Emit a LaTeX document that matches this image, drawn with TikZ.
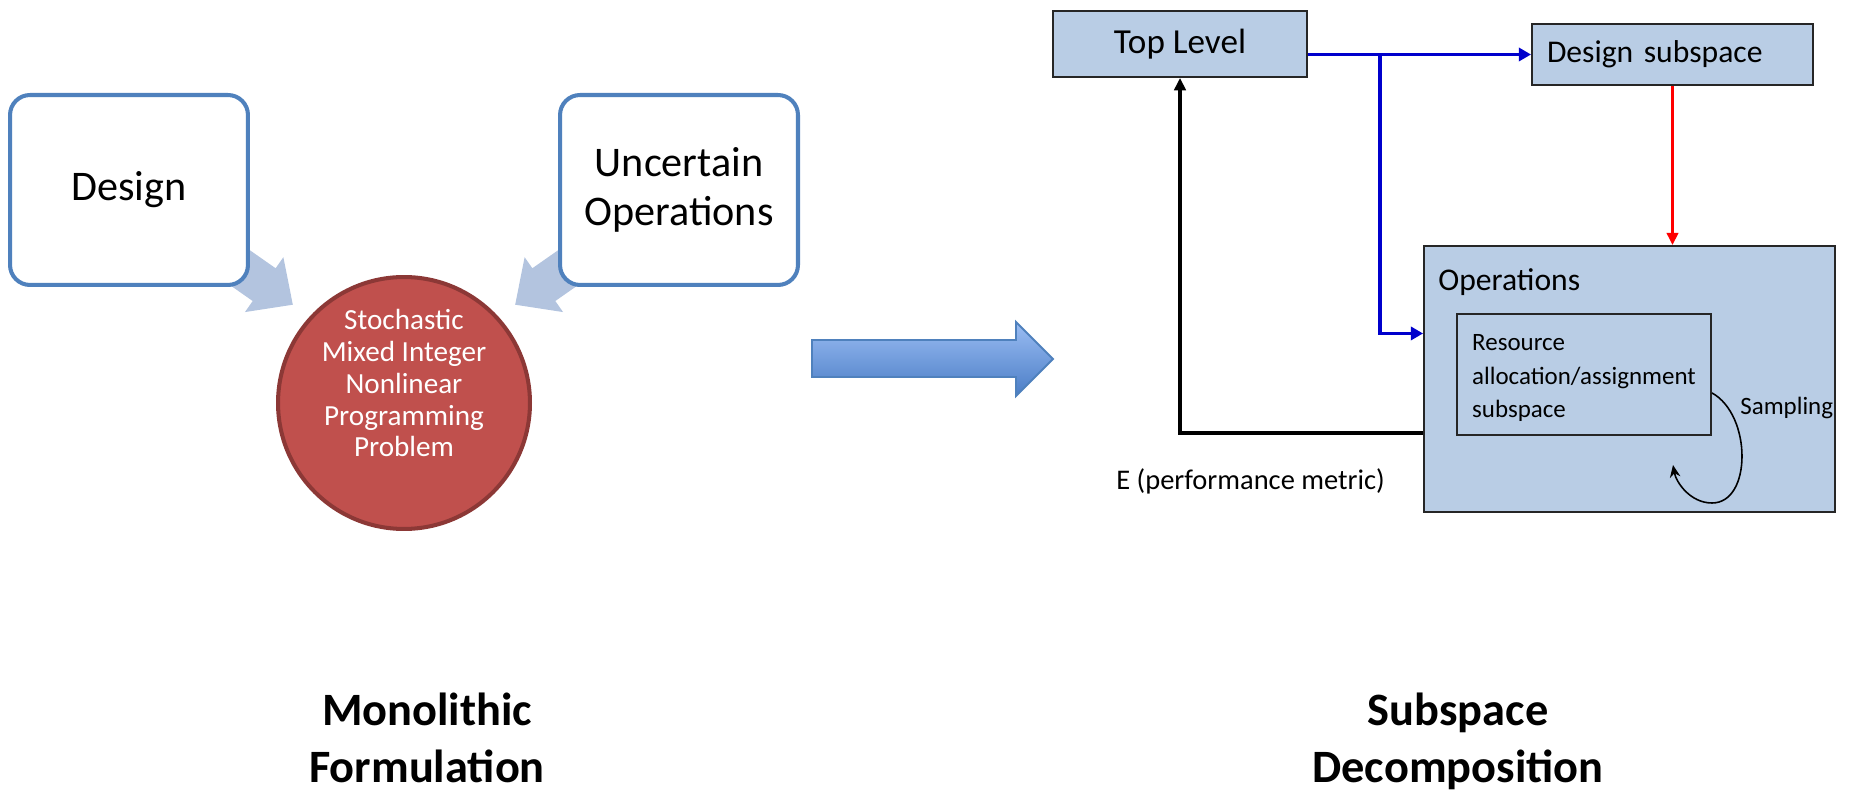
\documentclass[tikz,border=0pt]{standalone}
\usepackage{fontspec}
\setmainfont{Carlito}
\usetikzlibrary{arrows.meta, calc, positioning, backgrounds}
\definecolor{boxBlue}{HTML}{4F81BD}
\definecolor{arrowPale}{HTML}{B3C4DF}
\definecolor{circRed}{HTML}{C0504D}
\definecolor{circEdge}{HTML}{8C3836}
\definecolor{subFill}{HTML}{B9CDE5}
\definecolor{linkBlue}{HTML}{0000CC}
\definecolor{bigTop}{HTML}{9BBDF3}
\definecolor{bigBottom}{HTML}{4A7DC6}
\tikzset{
  inbox/.style     = {draw=boxBlue, line width=2.3pt, rounded corners=0.4cm, fill=white,
                      minimum width=4.76cm, minimum height=3.8cm, align=center,
                      font=\fontsize{24}{28}\selectfont},
  probcirc/.style  = {circle, draw=circEdge, fill=circRed, line width=2.3pt,
                      minimum size=5.04cm, inner sep=0pt},
  circtxt/.style   = {align=center, text=white, inner sep=0pt,
                      font=\fontsize{16.6}{18.2}\selectfont},
  subbox/.style    = {draw=black!85, fill=subFill, line width=1.1pt},
  bluelink/.style  = {-{Triangle[length=7pt, width=7.5pt]}, linkBlue, line width=2pt},
  redlink/.style   = {-{Triangle[length=7pt, width=6.5pt]}, red, line width=1.7pt},
  fbline/.style    = {-{Triangle[length=7pt, width=6.5pt]}, black, line width=2.2pt},
  looplink/.style  = {-{Stealth[length=7pt, width=6pt]}, black, line width=0.9pt},
  paleshape/.style = {fill=arrowPale},
  lbl/.style       = {font=\fontsize{18}{22}\selectfont, inner sep=0pt},
  slbl/.style      = {font=\fontsize{14.2}{19.3}\selectfont},
  headlbl/.style   = {font=\bfseries\fontsize{26.4}{32.4}\selectfont, align=center, inner sep=0pt},
}

\begin{document}
\begin{tikzpicture}[x=0.02cm, y=-0.02cm]
  \useasboundingbox (0,0) rectangle (1849,793);

  % monolithic formulation
  \node[inbox] (design) at (129,190) {Design};
  \node[inbox] (uncert) at (679,190) {Uncertain\\Operations};
  \node[probcirc] (sminlp) at (404,403) {};
  \node[circtxt] (sminlptxt) at (404,383)
    {Stochastic\\Mixed Integer\\Nonlinear\\Programming\\Problem};

  \begin{scope}[on background layer]
    \begin{scope}[shift={(design.center)}, rotate=-35]
      \fill[paleshape] (0,-20) -- (165,-20) -- (165,-33.5) -- (200,0)
        -- (165,33.5) -- (165,20) -- (0,20) -- cycle;
    \end{scope}
    \begin{scope}[shift={(uncert.center)}, rotate=-145]
      \fill[paleshape] (0,-20) -- (165,-20) -- (165,-33.5) -- (200,0)
        -- (165,33.5) -- (165,20) -- (0,20) -- cycle;
    \end{scope}
  \end{scope}

  % big arrow between the two halves
  \shade[top color=bigTop, bottom color=bigBottom, draw=boxBlue, line width=1.1pt]
    (812,340) -- (1016,340) -- (1016,322) -- (1053,359) -- (1016,396)
    -- (1016,377) -- (812,377) -- cycle;

  % subspace decomposition
  \node[subbox, minimum width=5.08cm, minimum height=1.32cm,
        font=\fontsize{20}{24}\selectfont] (toplvl) at (1180,44) {Top Level};
  \node[subbox, minimum height=1.22cm, text width=5.02cm, inner xsep=0.3cm,
        align=left, font=\fontsize{18}{22}\selectfont] (dsub) at (1672.5,54.5)
    {Design subspace};
  \node[subbox, minimum width=8.22cm, minimum height=5.32cm] (ops) at (1629.5,379) {};
  \node[lbl, anchor=base west] (opslbl) at (1438,291) {Operations};
  \node[subbox, slbl, minimum width=5.08cm, minimum height=2.42cm, align=left,
        text height=1.86cm, text depth=0.12cm] (rsrc) at (1584,374.5)
    {Resource\\allocation/assignment\\subspace};
  \node[slbl, inner sep=0pt, anchor=base west] (samplbl) at (1740,415) {Sampling};
  \node[font=\fontsize{16.2}{20}\selectfont, inner sep=0pt, anchor=base west]
    (elbl) at (1116,490) {E (performance metric)};

  \coordinate (split) at (1380,54.5);
  \coordinate (opsin) at ($(ops.south west)!0.67!(ops.north west)$);
  \coordinate (opsout) at ($(ops.south west)!0.3!(ops.north west)$);
  \coordinate (loopstart) at ($(rsrc.south east)!0.35!(rsrc.north east)$);
  \coordinate (loopend) at (1673,465);

  \draw[bluelink] (dsub.west -| toplvl.east) -- (dsub.west);
  \draw[bluelink] (split) |- (opsin);
  \draw[redlink] (dsub.south) -- (dsub.south |- ops.north);
  \draw[fbline] (opsout) -| (toplvl.south);
  \draw[looplink] (loopstart) .. controls (1752,415) and (1752,503) .. (1712,503)
    .. controls (1690,503) and (1676,482) .. (loopend);

  % captions
  \node[headlbl, anchor=base] (mono) at (427,782) {Monolithic\\Formulation};
  \node[headlbl, anchor=base] (decomp) at (1458,782) {Subspace\\Decomposition};
\end{tikzpicture}
\end{document}
